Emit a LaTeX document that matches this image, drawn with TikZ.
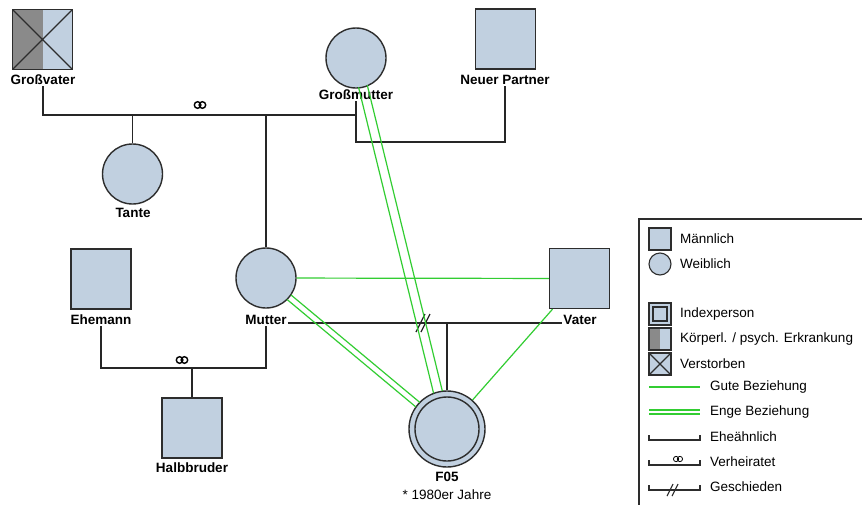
\documentclass[tikz,border=0pt]{standalone}
\usepackage{fontspec}
\setmainfont{Liberation Sans}
\usetikzlibrary{calc}
\definecolor{pfill}{RGB}{193,208,224}
\definecolor{pline}{RGB}{45,45,45}
\definecolor{sick}{RGB}{138,138,138}
\definecolor{rel}{RGB}{50,205,50}
\begin{document}
\begin{tikzpicture}[x=1pt,y=-1pt,
  male/.style={rectangle, draw=pline, fill=pfill, minimum size=60pt, inner sep=0pt, line width=1.4pt},
  female/.style={circle, draw=pline, fill=pfill, minimum size=60pt, inner sep=0pt, line width=1.4pt},
  lmale/.style={male, minimum size=22pt, line width=1.1pt},
  lfemale/.style={female, minimum size=22pt, line width=1.1pt},
  lbl/.style={font=\fontsize{13.5}{16}\selectfont\bfseries, inner sep=1pt},
  txt/.style={font=\fontsize{13.5}{16}\selectfont, inner sep=0pt, anchor=west},
  conn/.style={draw=black!85, line width=1.4pt},
  gute/.style={draw=rel, line width=1.2pt},
  ring/.pic={\draw (-2.4pt,0) circle (3.3pt); \draw (2.4pt,0) circle (3.3pt);},
  crossed/.style={path picture={\draw[pline, line width=1.1pt] (path picture bounding box.south west) -- (path picture bounding box.north east) (path picture bounding box.north west) -- (path picture bounding box.south east);}},
  halfsick/.style={path picture={\fill[sick] (path picture bounding box.south west) rectangle (path picture bounding box.north);}},
  sickdead/.style={path picture={\fill[sick] (path picture bounding box.south west) rectangle (path picture bounding box.north);
    \draw[pline, line width=1.1pt] (path picture bounding box.south west) -- (path picture bounding box.north east) (path picture bounding box.north west) -- (path picture bounding box.south east);}}
]
\useasboundingbox (0,0) rectangle (862,504);
\fill[white] (0,0) rectangle (862,504);

% persons
\node[male, sickdead] (gv) at (42.5,39.5) {};
\node[female] (gm) at (356,58) {};
\node[male] (np) at (505.5,39) {};
\node[female] (ta) at (132.5,174) {};
\node[male] (eh) at (101,279) {};
\node[female] (mu) at (266,278) {};
\node[male] (va) at (579.5,278.5) {};
\node[male] (hb) at (192,428) {};
\node[female, minimum size=76pt] (f05) at (447,429) {};
\draw[pline, line width=1.4pt] (f05.center) circle (32pt);

% labels
\node[lbl] (gvl) at (43,80) {Großvater};
\node[lbl] (gml) at (356,95) {Großmutter};
\node[lbl] (npl) at (505,80) {Neuer Partner};
\node[lbl] (tal) at (133,213) {Tante};
\node[lbl] (ehl) at (101,320) {Ehemann};
\node[lbl] (mul) at (266,320) {Mutter};
\node[lbl] (val) at (580,320) {Vater};
\node[lbl] (hbl) at (192,468) {Halbbruder};
\node[lbl] (f05l) at (447,477) {F05};
\node[font=\fontsize{13.5}{16}\selectfont, inner sep=1pt] (f05d) at (447,495) {* 1980er Jahre};

% family lines
\coordinate (m1) at (356,115);
\coordinate (m2) at (192,368);
\coordinate (m3) at (446,323);
\draw[conn] (gvl.south) |- (m1);
\draw[conn] (gml.south) -- ++(0,41) -| (npl.south);
\draw[conn] (ta.north) -- (ta.north |- m1);
\draw[conn] (mu.north) -- (mu.north |- m1);
\pic[line width=1.4pt] at (200,105) {ring};
\draw[conn] (ehl.south) |- (m2) -| (mul.south);
\draw[conn] (hb.north) -- (m2);
\pic[line width=1.4pt] at (182,360) {ring};
\draw[conn] ([yshift=-3pt]mul.east) -- ([yshift=-3pt]val.west);
\draw[conn] (f05.north) -- (f05.north |- m3);
\draw[conn, line width=1.2pt] (416,332) -- (425,314) (421,332) -- (430,314);

% relationships
\draw[gute] (mu) -- (va);
\draw[gute] (va) -- (f05);
\draw[gute, shorten <=30pt, shorten >=38pt] ($(mu.center)!3pt!90:(f05.center)$) -- ($(f05.center)!3pt!-90:(mu.center)$);
\draw[gute, shorten <=30pt, shorten >=38pt] ($(mu.center)!3pt!-90:(f05.center)$) -- ($(f05.center)!3pt!90:(mu.center)$);
\draw[gute, shorten <=29pt, shorten >=38pt] ($(gm.center)!4.5pt!90:(f05.center)$) -- ($(f05.center)!4.5pt!-90:(gm.center)$);
\draw[gute, shorten <=29pt, shorten >=38pt] ($(gm.center)!4.5pt!-90:(f05.center)$) -- ($(f05.center)!4.5pt!90:(gm.center)$);

% legend
\draw[pline, line width=1.2pt] (639,219) rectangle (880,520);
\node[lmale] (lm) at (660,239) {};
\node[txt] (lmt) at (680,239) {Männlich};
\node[lfemale] (lf) at (660,264) {};
\node[txt] (lft) at (680,264) {Weiblich};
\node[lmale] (li) at (660,314) {};
\node[lmale, minimum size=14pt] (lii) at (660,314) {};
\node[txt] (lit) at (680,314) {Indexperson};
\node[lmale, halfsick] (lk) at (660,339) {};
\node[txt] (lkt) at (680,339) {Körperl. / psych. Erkrankung};
\node[lmale, crossed] (lv) at (660,364) {};
\node[txt] (lvt) at (680,364) {Verstorben};
\draw[gute] (649,387) -- (700,387);
\node[txt] (lgt) at (710,387) {Gute Beziehung};
\draw[gute] (649,410) -- (700,410) (649,414) -- (700,414);
\node[txt] (let) at (710,412) {Enge Beziehung};
\draw[pline, line width=1.2pt] (649,435) -- (649,440) -- (700,440) -- (700,435);
\node[txt] (lht) at (710,437) {Eheähnlich};
\draw[pline, line width=1.2pt] (649,460) -- (649,465) -- (700,465) -- (700,460);
\pic[line width=0.8pt, scale=0.8] at (678,459) {ring};
\node[txt] (lrt) at (710,462) {Verheiratet};
\draw[pline, line width=1.2pt] (649,485) -- (649,490) -- (700,490) -- (700,485);
\draw[pline, line width=1.1pt] (667,496) -- (673,484) (672,496) -- (678,484);
\node[txt] (lst) at (710,487) {Geschieden};
\end{tikzpicture}
\end{document}
